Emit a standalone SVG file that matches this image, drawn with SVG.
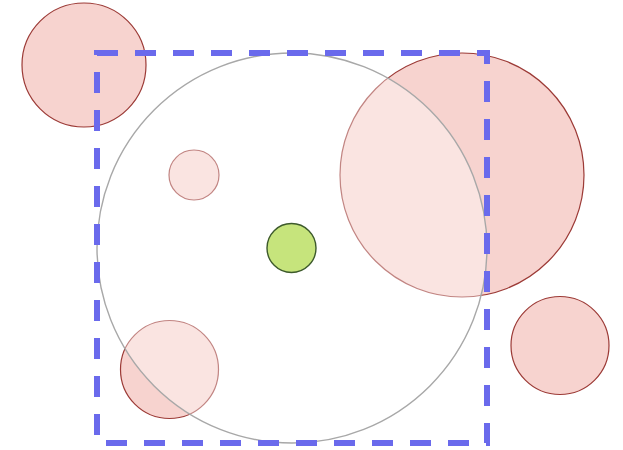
<svg xmlns="http://www.w3.org/2000/svg" width="623" height="450" viewBox="0 0 623 450">
<style>
.red{fill:#f7d3cf;stroke:#9c3a36;stroke-width:1.2}
.big{fill:#ffffff;fill-opacity:0.38;stroke:#a8a8a8;stroke-width:1.4}
.green{fill:#c6e47c;stroke:#3d5a2c;stroke-width:1.4}
.box{fill:none;stroke:#6a6aec;stroke-width:6;stroke-dasharray:21 17}
</style>
<rect width="623" height="450" fill="#ffffff"/>
<g id="circle-topleft"><circle class="red" cx="84" cy="65" r="62"/></g>
<g id="circle-small"><circle class="red" cx="194" cy="175" r="25"/></g>
<g id="circle-large"><circle class="red" cx="462" cy="175" r="122"/></g>
<g id="circle-bottomright"><circle class="red" cx="560" cy="345.5" r="49"/></g>
<g id="circle-bottomleft"><circle class="red" cx="169.5" cy="369.5" r="49"/></g>
<g id="circle-main"><circle class="big" cx="292" cy="248" r="195"/></g>
<g id="circle-center"><circle class="green" cx="291.5" cy="248" r="24.5"/></g>
<g id="bounds"><rect class="box" x="97" y="53" width="390" height="390"/></g>
<g id="connectors"/>
</svg>
